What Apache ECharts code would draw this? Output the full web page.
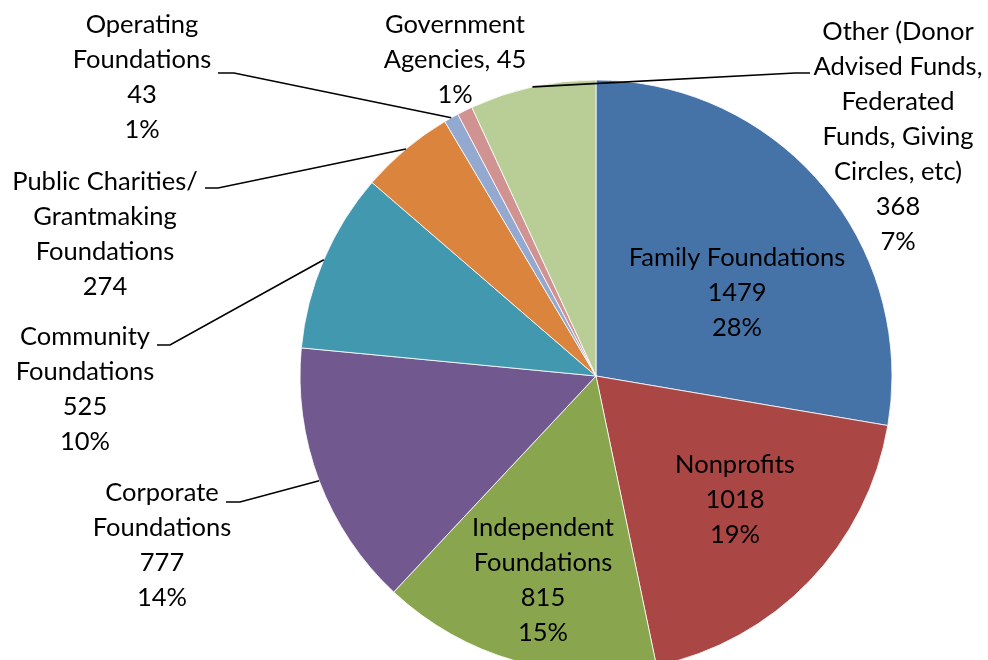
<!DOCTYPE html>
<html>
<head>
<meta charset="utf-8">
<script src="https://cdn.jsdelivr.net/npm/echarts@6/dist/echarts.min.js"></script>
<style>
  html, body { margin: 0; padding: 0; background: #fff; }
  #chart { width: 988px; height: 660px; }
</style>
</head>
<body>
<div id="chart"></div>
<script>
// categories in pie order (clockwise from 12 o'clock)
var categories = [
    'Family Foundations',
    'Nonprofits',
    'Independent\nFoundations',
    'Corporate\nFoundations',
    'Community\nFoundations',
    'Public Charities/\nGrantmaking\nFoundations',
    'Operating\nFoundations',
    'Government\nAgencies',
    'Other (Donor\nAdvised Funds,\nFederated\nFunds, Giving\nCircles, etc)'
];
var values = [1479, 1018, 815, 777, 525, 274, 43, 45, 368];
var colors = ['#4572A7', '#AA4643', '#89A54E', '#71588F', '#4198AF', '#DB843D', '#93A9CF', '#D19392', '#B9CD96'];

var pieCenter = [596, 376];
var pieRadius = 296;

// label placement: center x, top y, leader line end / bend (null = no line)
var labelPlace = [
    {x: 737, y: 240, line: null},
    {x: 735, y: 447, line: null},
    {x: 543, y: 510, line: null},
    {x: 162, y: 475, line: [[226, 502], [240, 502]]},
    {x: 85,  y: 319, line: [[157, 345], [170, 345]]},
    {x: 105, y: 164, line: [[205, 188], [218, 188]]},
    {x: 142, y: 7,   line: [[218, 73], [234, 73]]},
    {x: 455, y: 7,   line: null},
    {x: 898, y: 14,  line: [[810, 73], [795, 73]]}
];

// point on the pie edge at the middle of slice i
function sliceEdge(i){
    var total = 0, before = 0;
    values.forEach(function(v, k){ total += v; if (k < i) before += v; });
    var a = (before + values[i] / 2) / total * Math.PI * 2;
    return [pieCenter[0] + pieRadius * Math.sin(a), pieCenter[1] - pieRadius * Math.cos(a)];
}

var chart = echarts.init(document.getElementById('chart'));

var pieData = values.map(function(v, i){
    return {name: categories[i], value: v, itemStyle: {color: colors[i]}};
});
// same slices again, transparent, only to carry labels & leader lines above the pie
var labelData = values.map(function(v, i){
    return {name: categories[i], value: v, labelLine: {show: labelPlace[i].line != null}};
});

var options = {
    animation: false,
    series: [{
        type: 'pie',
        z: 2,
        center: pieCenter,
        radius: pieRadius,
        startAngle: 90,
        clockwise: true,
        silent: true,
        emphasis: {disabled: true},
        itemStyle: {borderColor: '#ffffff', borderWidth: 0.8},
        label: {show: false},
        labelLine: {show: false},
        data: pieData
    }, {
        type: 'pie',
        z: 5,
        center: pieCenter,
        radius: pieRadius,
        startAngle: 90,
        clockwise: true,
        silent: true,
        percentPrecision: 0,
        avoidLabelOverlap: false,
        emphasis: {disabled: true},
        itemStyle: {color: 'rgba(0,0,0,0)', borderWidth: 0},
        label: {
            show: true,
            position: 'outside',
            color: '#000',
            fontFamily: 'Lato',
            fontSize: 25.5,
            lineHeight: 35,
            align: 'center',
            formatter: function(p){
                if (p.dataIndex === 5) return p.name + '\n' + p.value;
                if (p.dataIndex === 7) return p.name + ', ' + p.value + '\n' + p.percent + '%';
                return p.name + '\n' + p.value + '\n' + p.percent + '%';
            }
        },
        labelLine: {
            show: true,
            smooth: false,
            length: 10,
            length2: 10,
            lineStyle: {color: '#000', width: 1.6}
        },
        labelLayout: function(params){
            var pl = labelPlace[params.dataIndex];
            var out = {x: pl.x, y: pl.y, align: 'center', verticalAlign: 'top'};
            if (pl.line) {
                out.labelLinePoints = [sliceEdge(params.dataIndex), pl.line[1], pl.line[0]];
            }
            return out;
        },
        data: labelData
    }]
};
chart.setOption(options);
</script>
</body>
</html>
